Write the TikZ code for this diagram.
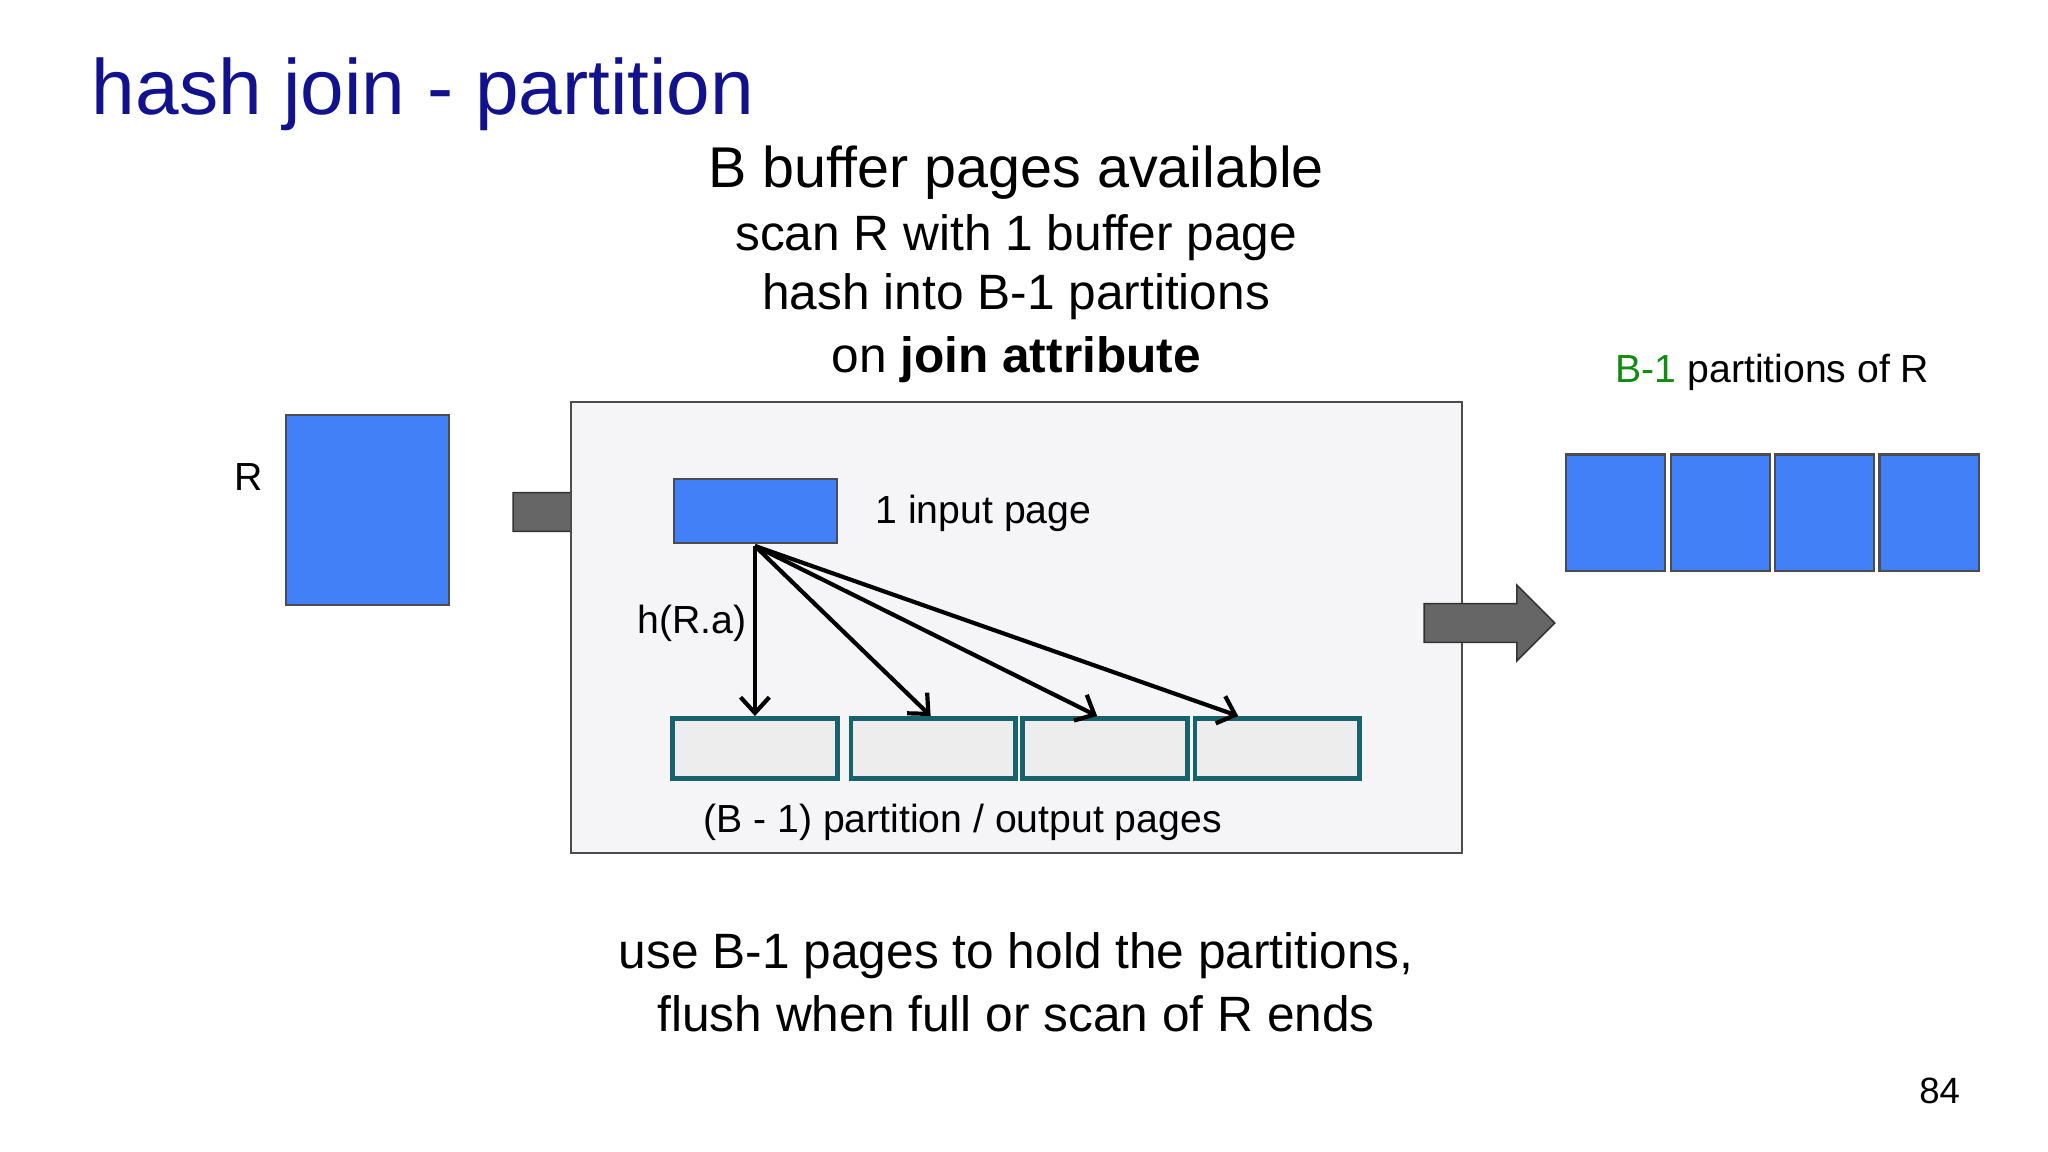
\documentclass[tikz,border=0pt]{standalone}
\usepackage{fontspec}
\setmainfont{Liberation Sans}
\usetikzlibrary{arrows.meta,shapes.arrows}
\definecolor{titleblue}{HTML}{12128C}
\definecolor{pageblue}{HTML}{4280F8}
\definecolor{teal}{HTML}{17626B}
\definecolor{bgbox}{HTML}{F5F5F7}
\definecolor{grn}{HTML}{138A13}
\begin{document}
\begin{tikzpicture}[x=0.5pt,y=-0.5pt,
  blue page/.style={draw=black!70,line width=0.8pt,fill=pageblue},
  out page/.style={draw=teal,line width=1.8pt,fill=black!7,minimum width=63pt,minimum height=23pt,inner sep=0pt},
  blockarrow/.style={single arrow,draw=black!80,fill=black!60,line width=0.6pt,minimum height=50pt,minimum width=29pt,single arrow head extend=7pt,single arrow tip angle=90,inner sep=7pt},
  hash/.style={-{Straight Barb[length=6pt,width=11pt]},line width=1.6pt},
  txt/.style={inner sep=0pt}]
\useasboundingbox (0,0) rectangle (1568,882);
\node[txt,anchor=base west,text=titleblue,font=\fontsize{30}{36}\selectfont] (title) at (70,88) {hash join - partition};
\node[txt,font=\fontsize{22}{26}\selectfont] (l1) at (778,132) {B buffer pages available};
\node[txt,font=\fontsize{19}{23}\selectfont] (l2) at (778,182) {scan R with 1 buffer page};
\node[txt,font=\fontsize{19}{23}\selectfont] (l3) at (778,227) {hash into B-1 partitions};
\node[txt,font=\fontsize{19}{23}\selectfont] (l4) at (778,275) {on \textbf{join attribute}};
\node[txt,font=\fontsize{15}{18}\selectfont] (rl) at (190,365) {R};
\node[blue page,minimum width=62.5pt,minimum height=72.5pt,inner sep=0pt] (R) at (281.5,390.5) {};
\node[blockarrow] (a1) at (435.5,392) {};
\node[draw=black!70,fill=bgbox,line width=0.8pt,minimum width=341pt,minimum height=172.5pt,inner sep=0pt] (big) at (778,480.5) {};
\node[blue page,minimum width=62.5pt,minimum height=24.5pt,inner sep=0pt] (in) at (578.5,391.5) {};
\node[txt,anchor=west,font=\fontsize{15}{18}\selectfont] (inl) at (670,393) {1 input page};
\node[out page] (p1) at (578,573) {};
\node[out page] (p2) at (714.5,573) {};
\node[out page] (p3) at (846,573) {};
\node[out page] (p4) at (978,573) {};
\coordinate (src) at (578,418);
\draw[hash] (src) -- (p1.north);
\draw[hash] (src) -- ([xshift=-1pt]p2.north);
\draw[hash] (src) -- ([xshift=-3pt]p3.north);
\draw[hash] (src) -- ([xshift=-15pt]p4.north);
\node[txt,font=\fontsize{15}{18}\selectfont] (h) at (530,477) {h(R.a)};
\node[txt,font=\fontsize{15}{18}\selectfont] (pl) at (737,630) {(B - 1) partition / output pages};
\node[blockarrow] (a2) at (1133,477) {};
\node[txt,font=\fontsize{15}{18}\selectfont] (bl) at (1357,285) {\textcolor{grn}{B-1} partitions of R};
\foreach \i/\x in {1/1237,2/1317,3/1397,4/1477}
  \node[blue page,minimum width=38pt,minimum height=44.5pt,inner sep=0pt] (q\i) at (\x,392.5) {};
\node[txt,font=\fontsize{19}{23}\selectfont] (b1) at (778,732) {use B-1 pages to hold the partitions,};
\node[txt,font=\fontsize{19}{23}\selectfont] (b2) at (778,776) {flush when full or scan of R ends};
\node[txt,font=\fontsize{14}{17}\selectfont] (num) at (1485,835) {84};
\end{tikzpicture}
\end{document}
